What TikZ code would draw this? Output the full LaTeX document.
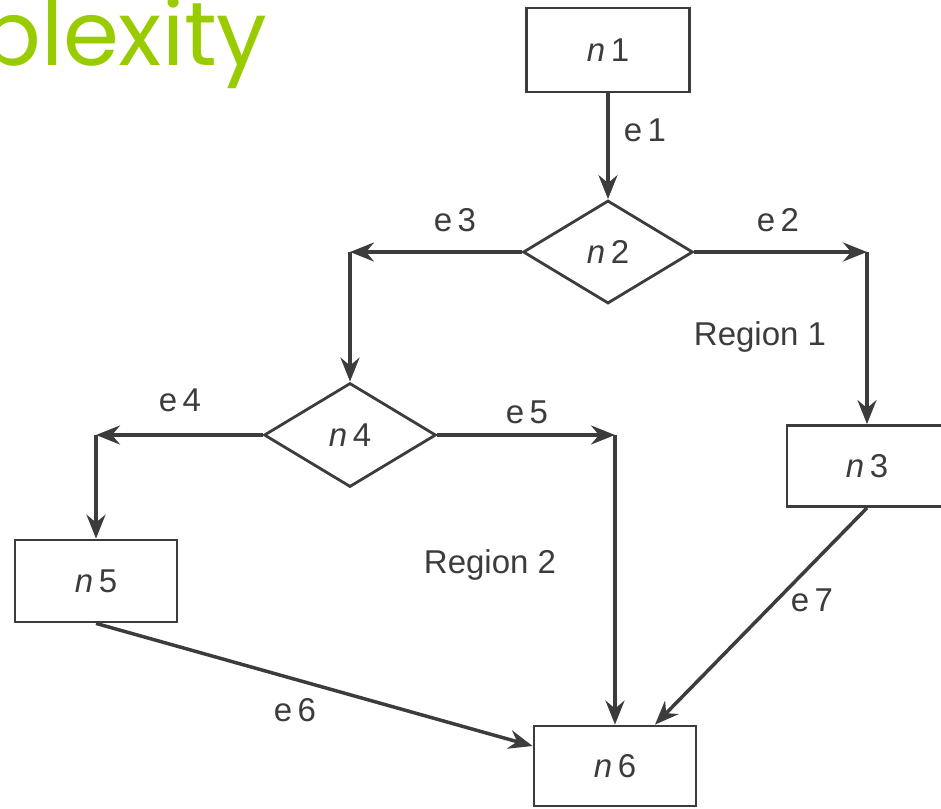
\documentclass[tikz,border=0pt]{standalone}
\usepackage{fontspec}
\setmainfont{Liberation Sans}
\newfontfamily\titlefont{Poppins}
\usetikzlibrary{shapes.geometric,arrows.meta}
\definecolor{ink}{HTML}{3C3C3C}
\definecolor{titlegreen}{HTML}{99CC00}
\tikzset{
  flowbox/.style={draw=ink,line width=2.8pt,minimum width=162pt,minimum height=82pt,inner sep=0pt},
  flowtest/.style={draw=ink,line width=2.8pt,diamond,aspect=1.65,minimum width=170pt,minimum height=103pt,inner sep=0pt},
  edgelabel/.style={text=ink,inner sep=0pt},
  flow/.style={draw=ink,line width=3.5pt,-{Stealth[length=24pt,width=19pt,inset=8pt]}}
}
\newcommand{\nname}[1]{\textit{n}\,#1}
\begin{document}
\begin{tikzpicture}[x=1pt,y=-1pt,font=\fontsize{33}{38}\selectfont,text=ink]
  \useasboundingbox (0,0) rectangle (941,808);
  \node[anchor=base west,inner sep=0pt,text=titlegreen,font=\titlefont\fontsize{90}{100}\selectfont] (title) at (-20,65) {plexity};

  \node[flowbox,minimum width=163pt,minimum height=84pt] (n1) at (608,50) {\nname{1}};
  \node[flowtest] (n2) at (608,252) {\nname{2}};
  \node[flowbox,minimum width=160pt,minimum height=81pt] (n3) at (867,466) {\nname{3}};
  \node[flowtest,minimum width=172pt,minimum height=104pt] (n4) at (350,435) {\nname{4}};
  \node[flowbox] (n5) at (96,581) {\nname{5}};
  \node[flowbox,minimum height=80pt] (n6) at (615,766) {\nname{6}};

  \coordinate (c2) at (n3.north |- n2.east);
  \coordinate (c3) at (n4.north |- n2.west);
  \coordinate (c4) at (n5.north |- n4.west);
  \coordinate (c5) at (n6.north |- n4.east);

  \draw[flow] (n1) -- (n2);
  \draw[flow] (n2) -- (c2);
  \draw[flow] (c2) -- (n3);
  \draw[flow] (n2) -- (c3);
  \draw[flow] (c3) -- (n4);
  \draw[flow] (n4) -- (c4);
  \draw[flow] (c4) -- (n5);
  \draw[flow] (n4) -- (c5);
  \draw[flow] (c5) -- (n6);
  \draw[flow] (n5.south) -- ([yshift=20pt]n6.west);
  \draw[flow] (n3.south) -- ([xshift=40pt]n6.north);

  \node[edgelabel] (e1) at (645,130) {e\,1};
  \node[edgelabel] (e2) at (778,220) {e\,2};
  \node[edgelabel] (e3) at (455,220) {e\,3};
  \node[edgelabel] (e4) at (180,400) {e\,4};
  \node[edgelabel] (e5) at (527,412) {e\,5};
  \node[edgelabel] (e6) at (295,710) {e\,6};
  \node[edgelabel] (e7) at (812,600) {e\,7};
  \node[edgelabel] (r1) at (760,337) {Region 1};
  \node[edgelabel] (r2) at (490,565) {Region 2};
\end{tikzpicture}
\end{document}
